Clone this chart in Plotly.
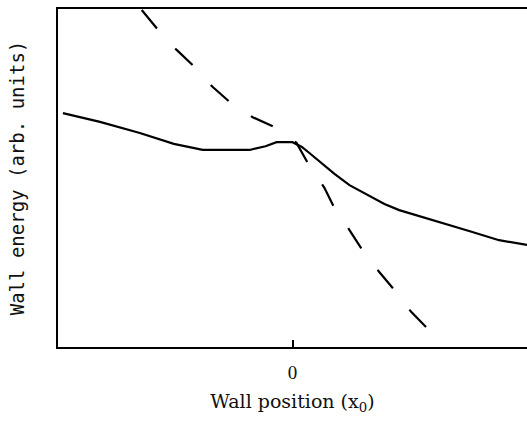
import plotly.graph_objects as go

# Solid curve: total wall energy vs wall position (arb. units)
solid_x = [-0.979, -0.821, -0.651, -0.506, -0.383, -0.183, -0.115, -0.068, 0.0, 0.04, 0.072, 0.136, 0.179, 0.243, 0.328, 0.392, 0.455, 0.583, 0.753, 0.881, 1.0]
solid_y = [0.692, 0.666, 0.633, 0.601, 0.583, 0.583, 0.594, 0.606, 0.606, 0.592, 0.574, 0.536, 0.512, 0.479, 0.447, 0.423, 0.405, 0.379, 0.343, 0.316, 0.302]

# Dashed curve
dash_x = [-0.643, -0.566, -0.494, -0.426, -0.340, -0.268, -0.170, -0.077, 0.017, 0.072, 0.136, 0.179, 0.243, 0.298, 0.370, 0.434, 0.506, 0.574]
dash_y = [0.997, 0.932, 0.879, 0.834, 0.769, 0.725, 0.680, 0.651, 0.604, 0.536, 0.471, 0.411, 0.346, 0.287, 0.222, 0.169, 0.104, 0.056]

xtick_vals = [0]
xtick_text = ["0"]

fig = go.Figure()
fig.add_trace(go.Scatter(x=solid_x, y=solid_y, mode="lines",
                         line=dict(color="black", width=2.2), showlegend=False))
fig.add_trace(go.Scatter(x=dash_x, y=dash_y, mode="lines",
                         line=dict(color="black", width=2.2, dash="24px,27px"), showlegend=False))

fig.update_layout(
    width=527, height=421,
    margin=dict(l=58, r=0, t=9, b=74),
    paper_bgcolor="white", plot_bgcolor="white",
    xaxis=dict(range=[-1, 1], showgrid=False, zeroline=False, automargin=False,
               showline=True, mirror=True, linecolor="black", linewidth=2,
               ticks="inside", ticklen=7, tickwidth=1.5, tickcolor="black",
               tickvals=xtick_vals, ticktext=xtick_text, ticklabelstandoff=7,
               tickfont=dict(family="Liberation Serif", size=19, color="#111"),
               title=dict(text="Wall position (x<sub>0</sub>)",
                          font=dict(family="DejaVu Serif", size=19, color="#111"),
                          standoff=13)),
    yaxis=dict(range=[0, 1], showgrid=False, zeroline=False, automargin=False,
               showline=True, mirror=False, linecolor="black", linewidth=2,
               showticklabels=False, ticks="",
               title=dict(text="Wall energy (arb. units)",
                          font=dict(family="DejaVu Sans Mono", size=19, color="#111"),
                          standoff=26)),
)

fig.write_html("out.html", config={"displayModeBar": False},
               post_script="document.body.style.margin='0';")
